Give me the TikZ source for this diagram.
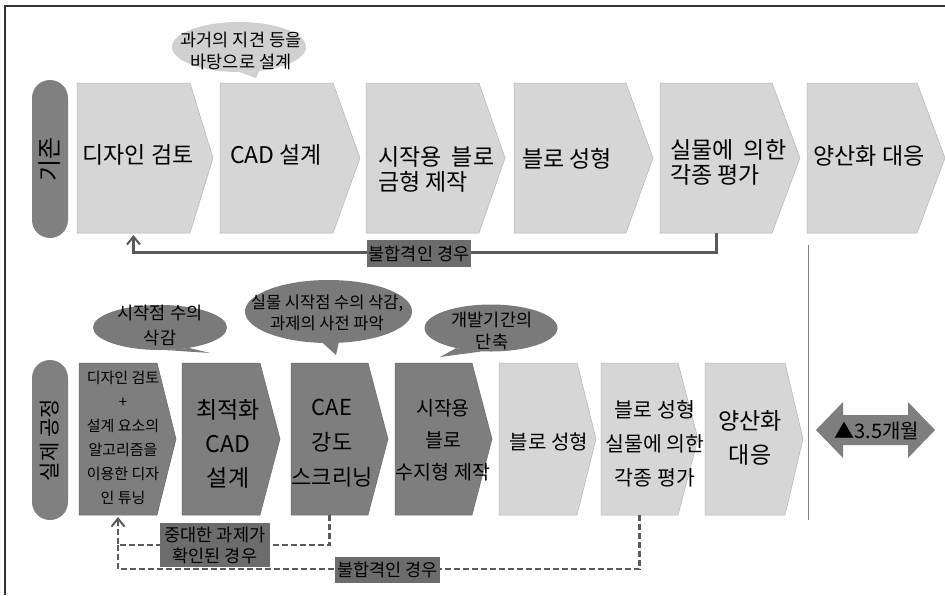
\documentclass[tikz,border=0pt]{standalone}
\usepackage{fontspec}
\setmainfont{Noto Sans CJK KR}
\usetikzlibrary{shapes.geometric,arrows.meta}
\definecolor{lightbox}{RGB}{214,214,214}
\definecolor{lightedge}{RGB}{180,180,180}
\definecolor{darkbox}{RGB}{126,126,126}
\definecolor{darkedge}{RGB}{105,105,105}
\definecolor{pillgray}{RGB}{128,128,128}
\definecolor{lblgray}{RGB}{108,108,108}
\definecolor{cdark}{RGB}{122,122,122}
\definecolor{clight}{RGB}{208,208,208}
\definecolor{fbgray}{RGB}{90,90,90}
\definecolor{framec}{RGB}{50,50,50}
\tikzset{
  boxanchor/.style={inner sep=0pt, outer sep=0pt, draw=none},
  lightfill/.style={fill=lightbox, draw=lightedge, line width=0.5pt},
  darkfill/.style={fill=darkbox, draw=darkedge, line width=0.5pt},
  txt/.style={inner sep=0pt, align=center, text=black},
  pillbox/.style={fill=pillgray, rounded corners=18pt, inner sep=0pt, text=black},
  lblbox/.style={fill=lblgray, inner sep=0pt, text=black, align=center},
  calloutdark/.style={ellipse, fill=cdark, inner sep=0pt},
  calloutlight/.style={ellipse, fill=clight, inner sep=0pt},
  fbsolid/.style={draw=fbgray, line width=3pt},
  fbdash/.style={draw=fbgray, line width=2.6pt, dash pattern=on 6pt off 3pt},
  fbtip/.style={-{Straight Barb[length=8pt,width=13pt,line width=2pt]}}
}
\newcommand{\chev}[7]{%
  \node[boxanchor, minimum width={(#3-#2)*1pt}, minimum height={(#6-#5)*1pt}] (#1) at ({(#2+#3)/2},{(#5+#6)/2}) {};
  \path[#7] (#1.north west) -- (#1.north east) -- ([xshift={(#4-#3)*1pt}]#1.east) -- (#1.south east) -- (#1.south west) -- cycle;
}
\begin{document}
\begin{tikzpicture}[x=1pt,y=-1pt]
\useasboundingbox (0,0) rectangle (945,595);
\fill[white] (0,0) rectangle (945,595);
% frame
\draw[framec, line width=2pt] (5,595) -- (5,6) -- (945,6);

% ---------- top row ----------
\node[pillbox, rotate=90, minimum width=158pt, minimum height=36pt, font=\fontsize{24}{28}\selectfont] (p1) at (50,159) {기존};

\chev{b1}{77}{190}{213}{83}{233}{lightfill}
\chev{b2}{220}{333}{360}{83}{233}{lightfill}
\chev{b3}{366}{479}{505}{83}{233}{lightfill}
\chev{b4}{514}{626}{653}{83}{233}{lightfill}
\chev{b5}{660}{772}{800}{83}{233}{lightfill}
\chev{b6}{807}{917}{945}{83}{233}{lightfill}

\tikzset{toprow/.style={txt, font=\fontsize{23}{25}\selectfont}}
\node[toprow] (t1) at (138,155) {디자인 검토};
\node[toprow] (t2) at (276,155) {CAD 설계};
\node[toprow, align=left, anchor=west] (t3) at (378,169) {시작용\ \ 블로\\금형 제작};
\node[toprow] (t4) at (567,159) {블로 성형};
\node[toprow, align=left, anchor=west] (t5) at (670,162) {실물에\ \ 의한\\각종 평가};
\node[toprow] (t6) at (869,156) {양산화 대응};

% top callout
\node[calloutlight, minimum width=134pt, minimum height=50pt] (c0) at (239,47) {};
\coordinate (c0tip) at (256,78);
\fill[clight] (c0.-88) -- (c0tip) -- (c0.-50) -- cycle;
\node[txt, font=\fontsize{17.5}{22}\selectfont] (c0t) at (241,51) {과거의 지견 등을\\바탕으로 설계};

% top feedback
\draw[fbsolid, fbtip] (b5.south) -- ++(0,19) -| ([yshift=-2pt]b1.south);
\node[lblbox, minimum width=104pt, minimum height=27pt, font=\fontsize{17.5}{20}\selectfont] (l1) at (419,253.5) {불합격인 경우};

% divider
\draw[gray, line width=1pt] (808,245) -- (808,520);

% ---------- bottom row ----------
\node[pillbox, rotate=90, minimum width=160pt, minimum height=36pt, font=\fontsize{21}{25}\selectfont] (p2) at (50,440) {실제 공정};

\chev{bA}{79}{157}{176}{363}{515}{darkfill}
\chev{bB}{182}{260}{280}{363}{515}{darkfill}
\chev{bC}{291}{368}{388}{363}{515}{darkfill}
\chev{bD}{395}{472}{492}{363}{515}{darkfill}
\chev{bE}{499}{577}{596}{363}{515}{lightfill}
\chev{bF}{601}{678}{698}{363}{515}{lightfill}
\chev{bG}{705}{785}{803}{363}{515}{lightfill}

\node[txt, font=\fontsize{15}{24}\selectfont] (tA) at (123,438) {디자인 검토\\+\\설계 요소의\\알고리즘을\\이용한 디자\\인 튜닝};
\node[txt, font=\fontsize{23}{34}\selectfont] (tB) at (228,444) {최적화\\CAD\\설계};
\node[txt, font=\fontsize{22}{35}\selectfont] (tC) at (332,443) {CAE\\강도\\스크리닝};
\node[txt, font=\fontsize{19.5}{32}\selectfont] (tD) at (443,440) {시작용\\블로\\수지형 제작};
\node[txt, font=\fontsize{20}{22}\selectfont] (tE) at (549,442) {블로 성형};
\node[txt, font=\fontsize{20.5}{34}\selectfont] (tF) at (655,444) {블로 성형\\실물에 의한\\각종 평가};
\node[txt, font=\fontsize{23}{34}\selectfont] (tG) at (750,438) {양산화\\대응};

% bottom callouts
\node[calloutdark, minimum width=134pt, minimum height=45pt] (c1) at (160,327.5) {};
\coordinate (c1tip) at (210,353);
\fill[cdark] (c1.-75) -- (c1tip) -- (c1.-35) -- cycle;
\node[txt, font=\fontsize{17.5}{25}\selectfont] (c1t) at (160,325) {시작점 수의\\삭감};

\node[calloutdark, minimum width=167pt, minimum height=63pt] (c2) at (328.5,311.5) {};
\coordinate (c2tip) at (336,355);
\fill[cdark] (c2.-100) -- (c2tip) -- (c2.-72) -- cycle;
\node[txt, font=\fontsize{16.5}{21}\selectfont] (c2t) at (327,312.5) {실물 시작점 수의 삭감,\\과제의 사전 파악};

\node[calloutdark, minimum width=133pt, minimum height=47pt] (c3) at (491,328) {};
\coordinate (c3tip) at (440,357);
\fill[cdark] (c3.-150) -- (c3tip) -- (c3.-112) -- cycle;
\node[txt, font=\fontsize{17.5}{22}\selectfont] (c3t) at (492,331) {개발기간의\\단축};

% bottom feedback (dashed)
\coordinate (jA) at ([yshift=-30pt]bA.south);
\draw[fbdash, fbtip] (bC.south) -- ++(0,30) -| ([yshift=-2pt]bA.south);
\draw[fbdash] (bF.south) -- ++(0,54) -| (jA);
\node[lblbox, minimum width=110pt, minimum height=44pt, font=\fontsize{17.5}{21}\selectfont] (l2) at (215,545) {중대한 과제가\\확인된 경우};
\node[lblbox, minimum width=105pt, minimum height=26pt, font=\fontsize{17.5}{20}\selectfont] (l3) at (387.5,570) {불합격인 경우};

% double arrow
\node[boxanchor, minimum width=119pt, minimum height=56pt] (da) at (875.5,430) {};
\fill[darkbox] (da.west) -- (843,402) -- (843,415) -- (908,415) -- (908,402) -- (da.east) -- (908,458) -- (908,445) -- (843,445) -- (843,458) -- cycle;
\node[txt, font=\fontsize{20}{22}\selectfont] (dat) at (877,431) {▲3.5개월};
\end{tikzpicture}
\end{document}
